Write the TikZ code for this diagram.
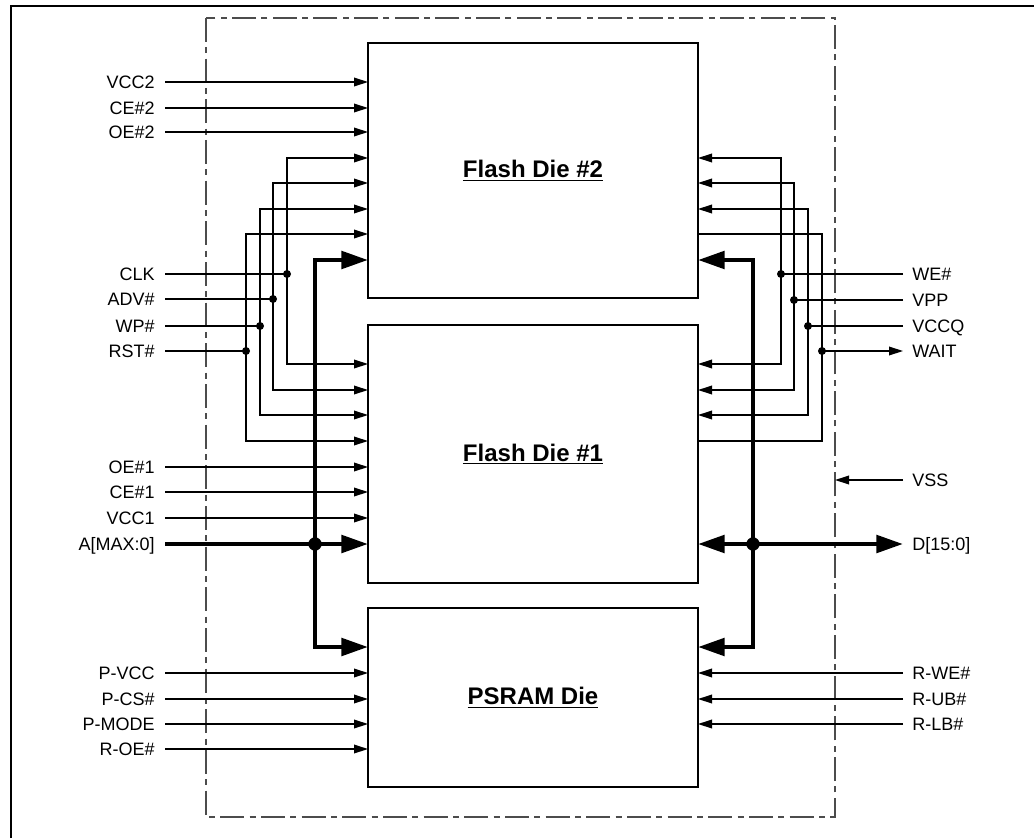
\documentclass[tikz,border=0pt]{standalone}
\usepackage{fontspec}
\setmainfont{Liberation Sans}
\usetikzlibrary{arrows.meta}
\tikzset{
  die/.style={draw,line width=1pt,inner sep=0pt,minimum width=247.5pt,font=\fontsize{18}{21}\selectfont\bfseries},
  lbl/.style={anchor=east,inner xsep=7.5pt,inner ysep=0pt,text height=9.6pt,text depth=0pt,font=\fontsize{13.5}{16}\selectfont},
  rlbl/.style={lbl,anchor=west,inner xsep=6.75pt},
  sig/.style={line width=1pt},
  pin/.style={sig,-{Triangle[length=10.5pt,width=6.5pt]}},
  bus/.style={line width=3.3pt},
  buspin/.style={bus,-{Triangle[length=20pt,width=13pt]}},
  busio/.style={bus,{Triangle[length=20pt,width=13pt]}-{Triangle[length=20pt,width=13pt]}},
  jn/.style={circle,fill,inner sep=0pt,minimum size=6pt},
  busjn/.style={jn,minimum size=10pt},
  pkg/.style={line width=1.5pt,black!70,dash pattern=on 18pt off 4pt on 4.5pt off 4pt}
}
\begin{document}
\begin{tikzpicture}[x=0.75pt,y=-0.75pt]
\useasboundingbox (0,0) rectangle (1034,838);
% frame and package outline
\draw[line width=1.5pt] (11,838) -- (11,6) -- (1034,6);
\draw[pkg] (206,18) rectangle (835,817);
% dies
\node[die,minimum height=191.25pt] (d2) at (533,170.5) {\underline{Flash Die \#2}};
\node[die,minimum height=193.5pt] (d1) at (533,454) {\underline{Flash Die \#1}};
\node[die,minimum height=134.25pt] (ps) at (533,697.5) {\underline{PSRAM Die}};
% pins on the die edges
\foreach \y [count=\i] in {82,108,132,158,183,209,234,260} {
  \coordinate (d2w\i) at (368,\y);
  \coordinate (d2e\i) at (698,\y);
}
\foreach \y [count=\i] in {364,390,415,441,467,492,518,544} {
  \coordinate (d1w\i) at (368,\y);
  \coordinate (d1e\i) at (698,\y);
}
\foreach \y [count=\i] in {647,673,699,724,749} {
  \coordinate (psw\i) at (368,\y);
  \coordinate (pse\i) at (698,\y);
}
% left side
\node[lbl] (vcc2) at (165,82) {VCC2};
\node[lbl] (ce2) at (165,108) {CE\#2};
\node[lbl] (oe2) at (165,132) {OE\#2};
\draw[pin] (vcc2.east) -- (d2w1);
\draw[pin] (ce2.east) -- (d2w2);
\draw[pin] (oe2.east) -- (d2w3);
\node[lbl] (clk) at (165,274) {CLK};
\node[lbl] (adv) at (165,299) {ADV\#};
\node[lbl] (wp) at (165,326) {WP\#};
\node[lbl] (rst) at (165,351) {RST\#};
\node[jn] (jclk) at (287,274) {};
\node[jn] (jadv) at (273,299) {};
\node[jn] (jwp) at (260,326) {};
\node[jn] (jrst) at (246,351) {};
\draw[sig] (clk.east) -- (jclk.center);
\draw[sig] (adv.east) -- (jadv.center);
\draw[sig] (wp.east) -- (jwp.center);
\draw[sig] (rst.east) -- (jrst.center);
\draw[pin] (jclk.center) |- (d2w4);
\draw[pin] (jclk.center) |- (d1w1);
\draw[pin] (jadv.center) |- (d2w5);
\draw[pin] (jadv.center) |- (d1w2);
\draw[pin] (jwp.center) |- (d2w6);
\draw[pin] (jwp.center) |- (d1w3);
\draw[pin] (jrst.center) |- (d2w7);
\draw[pin] (jrst.center) |- (d1w4);
\node[lbl] (oe1) at (165,467) {OE\#1};
\node[lbl] (ce1) at (165,492) {CE\#1};
\node[lbl] (vcc1) at (165,518) {VCC1};
\draw[pin] (oe1.east) -- (d1w5);
\draw[pin] (ce1.east) -- (d1w6);
\draw[pin] (vcc1.east) -- (d1w7);
\node[lbl] (addr) at (165,544) {A[MAX:0]};
\node[busjn] (jaddr) at (315,544) {};
\draw[buspin] (addr.east) -- (d1w8);
\draw[buspin] (jaddr.center) |- (d2w8);
\draw[buspin] (jaddr.center) |- (psw1);
\node[lbl] (pvcc) at (165,673) {P-VCC};
\node[lbl] (pcs) at (165,699) {P-CS\#};
\node[lbl] (pmode) at (165,724) {P-MODE};
\node[lbl] (roe) at (165,749) {R-OE\#};
\draw[pin] (pvcc.east) -- (psw2);
\draw[pin] (pcs.east) -- (psw3);
\draw[pin] (pmode.east) -- (psw4);
\draw[pin] (roe.east) -- (psw5);
% right side
\node[rlbl] (we) at (903,274) {WE\#};
\node[rlbl] (vpp) at (903,300) {VPP};
\node[rlbl] (vccq) at (903,326) {VCCQ};
\node[rlbl] (wait) at (903,351) {WAIT};
\node[jn] (jwe) at (781,274) {};
\node[jn] (jvpp) at (794,300) {};
\node[jn] (jvccq) at (808,326) {};
\node[jn] (jwait) at (822,351) {};
\draw[sig] (we.west) -- (jwe.center);
\draw[sig] (vpp.west) -- (jvpp.center);
\draw[sig] (vccq.west) -- (jvccq.center);
\draw[pin] (jwe.center) |- (d2e4);
\draw[pin] (jwe.center) |- (d1e1);
\draw[pin] (jvpp.center) |- (d2e5);
\draw[pin] (jvpp.center) |- (d1e2);
\draw[pin] (jvccq.center) |- (d2e6);
\draw[pin] (jvccq.center) |- (d1e3);
\draw[sig] (d2e7) -| (jwait.center) |- (d1e4);
\draw[pin] (jwait.center) -- (wait.west);
\node[rlbl] (vss) at (903,480) {VSS};
\coordinate (gnd) at (835,480);
\draw[pin] (vss.west) -- (gnd);
\node[rlbl] (data) at (903,544) {D[15:0]};
\node[busjn] (jdata) at (753,544) {};
\draw[busio] (d1e8) -- (data.west);
\draw[buspin] (jdata.center) |- (d2e8);
\draw[buspin] (jdata.center) |- (pse1);
\node[rlbl] (rwe) at (903,673) {R-WE\#};
\node[rlbl] (rub) at (903,699) {R-UB\#};
\node[rlbl] (rlb) at (903,724) {R-LB\#};
\draw[pin] (rwe.west) -- (pse2);
\draw[pin] (rub.west) -- (pse3);
\draw[pin] (rlb.west) -- (pse4);
\end{tikzpicture}
\end{document}
